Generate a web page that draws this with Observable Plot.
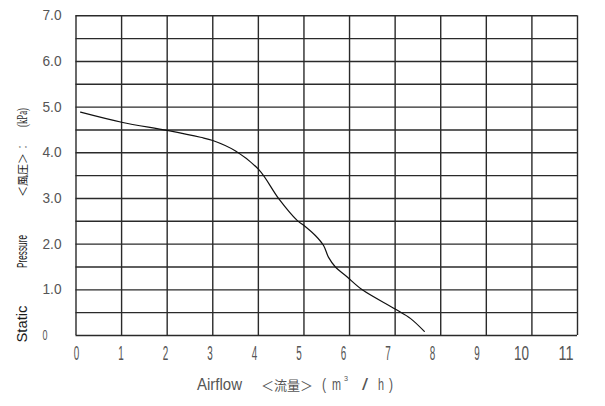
<!DOCTYPE html>
<html>
<head>
<meta charset="utf-8">
<script src="https://cdn.jsdelivr.net/npm/d3@7"></script>
<script src="https://cdn.jsdelivr.net/npm/@observablehq/plot@0.6"></script>
<style>
  html, body { margin: 0; padding: 0; background: #fff; }
  #chart svg { display: block; }
</style>
</head>
<body>
<div id="chart"></div>
<script>
// ---- data ----
const flow     = [0.10, 1.00, 2.00, 2.73, 3.00, 3.50, 4.01, 4.45, 4.85, 5.00, 5.25, 5.43, 5.54, 5.69, 5.95, 6.28, 7.00, 7.34, 7.64];
const pressure = [4.89, 4.67, 4.49, 4.34, 4.27, 4.04, 3.63, 2.99, 2.52, 2.41, 2.19, 1.97, 1.71, 1.50, 1.28, 1.00, 0.58, 0.37, 0.09];

const xGrid = [0, 1, 2, 3, 4, 5, 6, 7, 8, 9, 10, 11];
const yGrid = [0, 0.5, 1, 1.5, 2, 2.5, 3, 3.5, 4, 4.5, 5, 5.5, 6, 6.5, 7];

const xTicks = [0, 1, 2, 3, 4, 5, 6, 7, 8, 9, 10, 11];
const xTickLabels = ["0", "1", "2", "3", "4", "5", "6", "7", "8", "9", "10", "11"];
const yTicks = [0, 1, 2, 3, 4, 5, 6, 7];
const yTickLabels = ["0", "1.0", "2.0", "3.0", "4.0", "5.0", "6.0", "7.0"];

const curve = flow.map((f, i) => ({flow: f, pressure: pressure[i]}));

// x tick labels in the original drift slightly left of their grid lines
const labelStretch = 0.976;
const labelOffset = 0.011;

const svg = Plot.plot({
  width: 605,
  height: 406,
  marginLeft: 75.5,
  marginRight: 28,
  marginTop: 15.3,
  marginBottom: 71,
  x: {domain: [0, 11], axis: null},
  y: {domain: [0, 7], axis: null},
  marks: [
    Plot.ruleX(xGrid, {stroke: "#2a2a2a", strokeWidth: 1.4}),
    Plot.ruleY(yGrid, {stroke: "#2a2a2a", strokeWidth: 1.4}),
    Plot.line(curve, {x: "flow", y: "pressure", curve: "catmull-rom", stroke: "#111", strokeWidth: 1.2}),
    Plot.text(yTicks, {
      y: d => d, frameAnchor: "left", dx: -33.5, lineAnchor: "middle",
      text: (d, i) => yTickLabels[i], textAnchor: "start",
      fill: "#555", fontSize: 14, fontFamily: "Liberation Sans, Arial, sans-serif"
    }),
    Plot.text(xTicks, {
      x: d => labelOffset + d * labelStretch, frameAnchor: "bottom", dy: 18.5, lineAnchor: "middle",
      text: (d, i) => xTickLabels[i], textAnchor: "middle",
      fill: "#555", fontSize: 20, fontFamily: "Liberation Sans, Arial, sans-serif"
    })
  ]
});

// narrow the tick label glyphs like the original condensed font
const textGroups = svg.querySelectorAll('g[aria-label="text"]');
if (textGroups[0]) textGroups[0].querySelectorAll("text").forEach(t => {
  const n = t.textContent.length;
  t.setAttribute("textLength", n === 1 ? 5 : 19);
  t.setAttribute("lengthAdjust", "spacingAndGlyphs");
});
if (textGroups[1]) textGroups[1].querySelectorAll("text").forEach(t => {
  const n = t.textContent.length;
  t.setAttribute("textLength", n === 1 ? 5.5 : 15);
  t.setAttribute("lengthAdjust", "spacingAndGlyphs");
});

const s = d3.select(svg);

// y-axis title (rotated, reading bottom-to-top)
const yTitle = [
  {text: "Static",   c: 324, len: 37, font: "Liberation Sans, Arial, sans-serif", size: 14},
  {text: "Pressure", c: 251.5, len: 33, font: "Liberation Sans, Arial, sans-serif", size: 14.5},
  {text: "＜風圧＞",  c: 175, len: 44, font: "Noto Sans CJK JP, sans-serif", size: 11},
  {text: "：",        c: 147, len: 6,  font: "Noto Sans CJK JP, sans-serif", size: 11},
  {text: "(kPa)",    c: 117.5, len: 19, font: "Liberation Serif, serif", size: 15}
];
yTitle.forEach(p => {
  s.append("text")
    .attr("transform", `translate(22,${p.c}) rotate(-90)`)
    .attr("text-anchor", "middle")
    .attr("dominant-baseline", "central")
    .attr("textLength", p.len)
    .attr("lengthAdjust", "spacingAndGlyphs")
    .attr("font-family", p.font)
    .attr("font-size", p.size)
    .attr("fill", "#1a1a1a")
    .text(p.text);
});

// x-axis title
const xTitle = [
  {text: "Airflow", x: 197, len: 45, font: "Liberation Sans, Arial, sans-serif", size: 16},
  {text: "＜流量＞", x: 261, len: 52, font: "Noto Sans CJK JP, sans-serif", size: 13},
  {text: "(", x: 322, len: 4, font: "Liberation Sans, Arial, sans-serif", size: 16},
  {text: "m", x: 332, len: 9, font: "Liberation Sans, Arial, sans-serif", size: 16},
  {text: "/", x: 362, len: 6, font: "Liberation Sans, Arial, sans-serif", size: 16},
  {text: "h", x: 378, len: 6, font: "Liberation Sans, Arial, sans-serif", size: 16},
  {text: ")", x: 389, len: 4, font: "Liberation Sans, Arial, sans-serif", size: 16}
];
xTitle.forEach(p => {
  s.append("text")
    .attr("x", p.x).attr("y", 390)
    .attr("text-anchor", "start")
    .attr("textLength", p.len)
    .attr("lengthAdjust", "spacingAndGlyphs")
    .attr("font-family", p.font)
    .attr("font-size", p.size)
    .attr("fill", "#555")
    .text(p.text);
});
s.append("text")
  .attr("x", 344).attr("y", 381)
  .attr("text-anchor", "start")
  .attr("textLength", 4).attr("lengthAdjust", "spacingAndGlyphs")
  .attr("font-family", "Liberation Sans, Arial, sans-serif")
  .attr("font-size", 8).attr("fill", "#555")
  .text("3");

document.getElementById("chart").appendChild(svg);
</script>
</body>
</html>
